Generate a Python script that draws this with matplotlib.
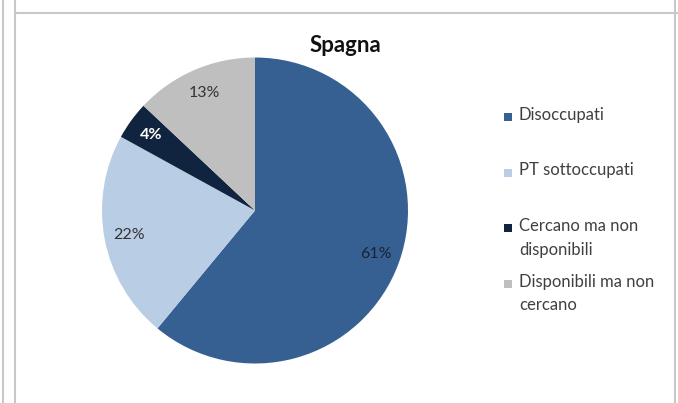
import matplotlib
matplotlib.use("Agg")
import matplotlib.pyplot as plt
from matplotlib.patches import Rectangle
from matplotlib.lines import Line2D

categories = ["Disoccupati", "PT sottoccupati", "Cercano ma non\ndisponibili", "Disponibili ma non\ncercano"]
values = [61, 22, 4, 13]
colors = ["#376092", "#B9CDE5", "#10243F", "#BFBFBF"]
label_colors = ["#1a2233", "#333333", "#ffffff", "#333333"]
label_weights = ["normal", "normal", "bold", "normal"]
title = "Spagna"

W, H = 678, 403
fig = plt.figure(figsize=(W / 100, H / 100), dpi=100)
fig.patch.set_facecolor("white")
plt.rcParams['font.family'] = ['Lato', 'DejaVu Sans']

# frame lines
def px_line(x0, y0, x1, y1, c="#c8c8c8", lw=1.5):
    fig.add_artist(Line2D([x0 / W, x1 / W], [1 - y0 / H, 1 - y1 / H],
                          transform=fig.transFigure, color=c, lw=lw))

px_line(3, 0, 3, H)
px_line(14.5, 0, 14.5, H)
px_line(14.5, 12.5, W, 12.5)
px_line(675, 0, 675, H)

# pie axes
cx, cy, r = 255, 210.5, 153
ax = fig.add_axes([(cx - r) / W, (H - cy - r) / H, 2 * r / W, 2 * r / H])
wedges, texts, autotexts = ax.pie(values, colors=colors, startangle=90, counterclock=False,
                                  autopct="%d%%", pctdistance=0.84, radius=1,
                                  wedgeprops=dict(linewidth=0))
for t, c, w in zip(autotexts, label_colors, label_weights):
    t.set_color(c)
    t.set_fontweight(w)
    t.set_fontsize(11.5)
ax.set_xlim(-1, 1)
ax.set_ylim(-1, 1)
ax.set_axis_off()

fig.text(345 / W, 1 - 45 / H, title, ha="center", va="center", fontsize=16,
         fontweight="bold", color="#111111")

# legend
y0 = 117
dy = 55.5
for i, (lab, col) in enumerate(zip(categories, colors)):
    y = y0 + i * dy
    fig.add_artist(Rectangle((504 / W, 1 - (y + 4) / H), 8 / W, 8 / H,
                             transform=fig.transFigure, facecolor=col, edgecolor="none"))
    fig.text(519 / W, 1 - (y - 10) / H, lab, ha="left", va="top", fontsize=12,
             color="#404040", linespacing=1.6)

fig.savefig("out.png", dpi=100, facecolor="white")
